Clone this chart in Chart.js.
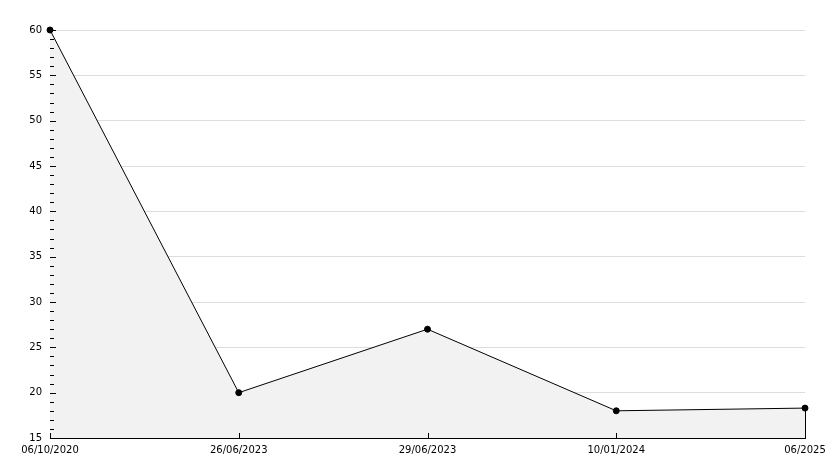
<!DOCTYPE html>
<html>
<head>
<meta charset="utf-8">
<script src="https://cdn.jsdelivr.net/npm/chart.js@4/dist/chart.umd.min.js"></script>
<style>
html,body{margin:0;padding:0;background:#fff;}
#wrap{width:834px;height:468px;}
</style>
</head>
<body>
<div id="wrap"><canvas id="c" width="834" height="468"></canvas></div>
<script>
const categories = ["06/10/2020", "26/06/2023", "29/06/2023", "10/01/2024", "06/2025"];
const values = [60, 20, 27, 18, 18.3];
const yMin = 15, yMax = 60, yStep = 5, yMinorStep = 1;

const ticksPlugin = {
  id: 'innerTicks',
  afterDatasetsDraw(chart) {
    const ctx = chart.ctx, y = chart.scales.y, x = chart.scales.x, area = chart.chartArea;
    ctx.save();
    ctx.strokeStyle = '#000';
    ctx.lineWidth = 1;
    const meta = chart.getDatasetMeta(0);
    const last = meta.data[meta.data.length - 1];
    ctx.beginPath();
    ctx.moveTo(Math.round(last.x) + 0.5, last.y);
    ctx.lineTo(Math.round(last.x) + 0.5, area.bottom);
    ctx.stroke();
    for (let v = yMin; v <= yMax; v += yMinorStep) {
      const py = Math.round(y.getPixelForValue(v)) + 0.5;
      const len = (v % yStep === 0) ? 6 : 4;
      ctx.beginPath();
      ctx.moveTo(area.left, py);
      ctx.lineTo(area.left + len, py);
      ctx.stroke();
    }
    for (let i = 0; i < categories.length; i++) {
      const px = Math.round(x.getPixelForValue(i)) + 0.5;
      ctx.beginPath();
      ctx.moveTo(px, area.bottom);
      ctx.lineTo(px, area.bottom - 5);
      ctx.stroke();
    }
    ctx.restore();
  }
};

new Chart(document.getElementById('c'), {
  type: 'line',
  data: {
    labels: categories,
    datasets: [{
      data: values,
      borderColor: '#000',
      borderWidth: 1,
      backgroundColor: '#f2f2f2',
      fill: 'start',
      tension: 0,
      pointRadius: 3,
      pointBackgroundColor: '#000',
      pointBorderColor: '#000',
      pointBorderWidth: 1,
      clip: false
    }]
  },
  options: {
    responsive: false,
    animation: false,
    devicePixelRatio: 1,
    layout: { padding: { top: 30, right: 29, left: 0, bottom: 0 } },
    plugins: { legend: { display: false }, tooltip: { enabled: false } },
    scales: {
      x: {
        offset: false,
        grid: { display: false, drawTicks: false },
        border: { display: true, color: '#000', width: 1 },
        ticks: { color: '#000', font: { family: 'DejaVu Sans', size: 10 }, padding: 6, maxRotation: 0, autoSkip: false },
        afterFit(s) { s.height = 30; }
      },
      y: {
        min: yMin, max: yMax,
        grid: { color: '#dddddd', drawTicks: false },
        border: { display: true, color: '#000', width: 1 },
        ticks: { stepSize: yStep, color: '#000', font: { family: 'DejaVu Sans', size: 10 }, padding: 8 },
        afterFit(s) { s.width = 50; }
      }
    }
  },
  plugins: [ticksPlugin]
});
</script>
</body>
</html>
